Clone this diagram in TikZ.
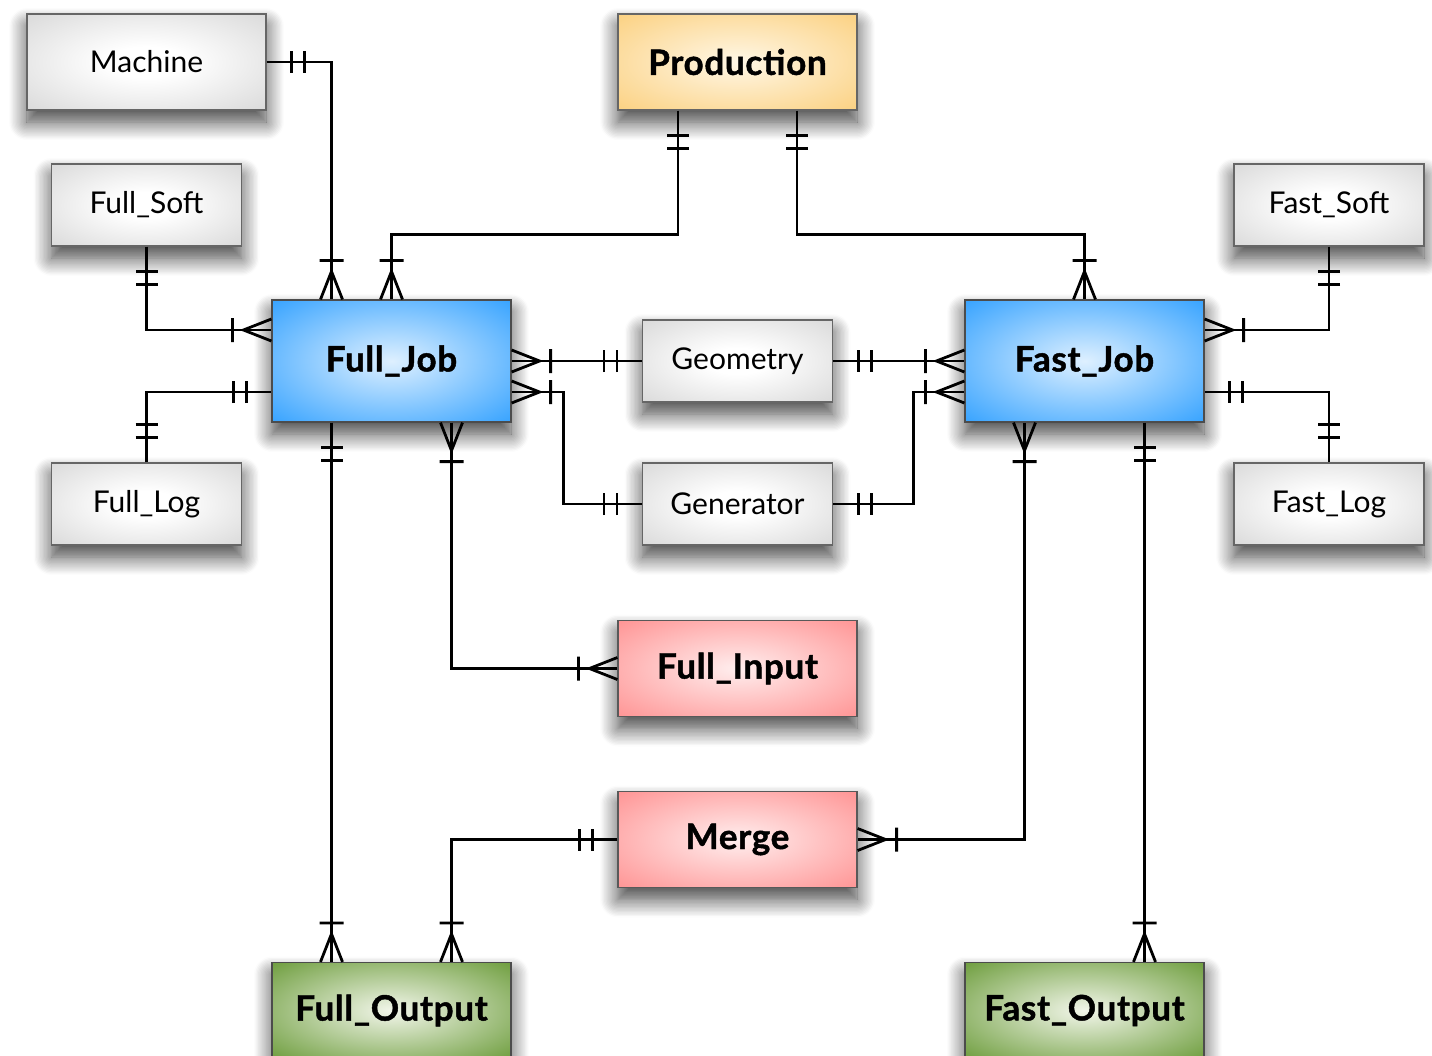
\documentclass[tikz,border=0pt]{standalone}
\usepackage{fontspec}
\setmainfont{Lato}
\newfontfamily\heavyfont{Lato}[BoldFeatures={FakeBold=1.3}, LetterSpace=2]
\usetikzlibrary{calc,shadows.blur}
\definecolor{gedge}{RGB}{204,204,204}
\definecolor{bedge}{RGB}{5,140,255}
\definecolor{bcent}{RGB}{222,240,255}
\definecolor{oedge}{RGB}{250,198,100}
\definecolor{ocent}{RGB}{255,247,230}
\definecolor{redge}{RGB}{255,122,122}
\definecolor{rcent}{RGB}{255,238,238}
\definecolor{gredge}{RGB}{72,132,12}
\definecolor{grcent}{RGB}{242,246,234}
\pgfdeclareradialshading{shgray}{\pgfpoint{0bp}{0bp}}{color(0bp)=(white); color(8bp)=(white); color(46bp)=(gedge); color(75bp)=(gedge)}
\pgfdeclareradialshading{shblue}{\pgfpoint{0bp}{0bp}}{color(0bp)=(bcent); color(46bp)=(bedge); color(75bp)=(bedge)}
\pgfdeclareradialshading{shorange}{\pgfpoint{0bp}{0bp}}{color(0bp)=(ocent); color(46bp)=(oedge); color(75bp)=(oedge)}
\pgfdeclareradialshading{shred}{\pgfpoint{0bp}{0bp}}{color(0bp)=(rcent); color(46bp)=(redge); color(75bp)=(redge)}
\pgfdeclareradialshading{shgreen}{\pgfpoint{0bp}{0bp}}{color(0bp)=(grcent); color(46bp)=(gredge); color(75bp)=(gredge)}
\tikzset{
  ent/.style={draw, inner sep=0pt, shade, line width=0.6pt,
    blur shadow={shadow xshift=0pt, shadow yshift=-6pt, shadow blur radius=9pt, shadow blur steps=14, shadow opacity=75},
    font=\fontsize{15}{18}\selectfont},
  smallbox/.style={ent, minimum width=95pt, minimum height=41pt},
  widebox/.style={ent, minimum width=119.5pt, minimum height=48pt},
  jobbox/.style={ent, minimum width=119.5pt, minimum height=61pt},
  strong/.style={font=\fontsize{17.5}{21}\heavyfont\bfseries},
  grayent/.style={shading=shgray, draw=black!60},
  blueent/.style={shading=shblue, draw=black!70, strong},
  orangeent/.style={shading=shorange, draw=black!60, strong},
  redent/.style={shading=shred, draw=black!65, strong},
  greenent/.style={shading=shgreen, draw=black!70, strong},
  conn/.style={line width=1.4pt},
  onemany/.pic={\draw[line width=1.4pt] (0,-11) -- (28,0) -- (0,11) (39,-12) -- (39,12);},
  oneone/.pic={\draw[line width=1.4pt] (25,-11) -- (25,11) (38,-11) -- (38,11);}
}
\begin{document}
\begin{tikzpicture}[x=0.5pt, y=-0.5pt]
\useasboundingbox (0,0) rectangle (1432,1056);
\node[widebox, grayent] (machine) at (146.5,62) {Machine};
\node[widebox, orangeent] (production) at (737.5,62) {Production};
\node[smallbox, grayent] (fullsoft) at (146.5,205) {Full\_Soft};
\node[smallbox, grayent] (fastsoft) at (1329,205) {Fast\_Soft};
\node[jobbox, blueent] (fulljob) at (391.5,361) {Full\_Job};
\node[jobbox, blueent] (fastjob) at (1084.5,361) {Fast\_Job};
\node[smallbox, grayent] (geometry) at (737.5,361) {Geometry};
\node[smallbox, grayent] (generator) at (737.5,504) {Generator};
\node[smallbox, grayent] (fulllog) at (146.5,504) {Full\_Log};
\node[smallbox, grayent] (fastlog) at (1329,504) {Fast\_Log};
\node[widebox, redent] (fullinput) at (737.5,668.5) {Full\_Input};
\node[widebox, redent] (merge) at (737.5,839.5) {Merge};
\node[widebox, greenent] (fulloutput) at (391.5,1010.5) {Full\_Output};
\node[widebox, greenent] (fastoutput) at (1084.5,1010.5) {Fast\_Output};

% 1 Machine - Full_Job
\draw[conn] (machine.east) -| ($(fulljob.north)+(-60,0)$);
\pic at (machine.east) {oneone};
\pic[rotate=90] at ($(fulljob.north)+(-60,0)$) {onemany};
% 2 Production - Full_Job
\draw[conn] ($(production.south)+(-59.5,0)$) -- ++(0,124) -| (fulljob.north);
\pic[rotate=-90] at ($(production.south)+(-59.5,0)$) {oneone};
\pic[rotate=90] at (fulljob.north) {onemany};
% 3 Production - Fast_Job
\draw[conn] ($(production.south)+(59.5,0)$) -- ++(0,124) -| (fastjob.north);
\pic[rotate=-90] at ($(production.south)+(59.5,0)$) {oneone};
\pic[rotate=90] at (fastjob.north) {onemany};
% 4 Full_Soft - Full_Job
\draw[conn] (fullsoft.south) |- ($(fulljob.west)+(0,-31)$);
\pic[rotate=-90] at (fullsoft.south) {oneone};
\pic[rotate=180] at ($(fulljob.west)+(0,-31)$) {onemany};
% 5 Full_Log - Full_Job
\draw[conn] (fulllog.north) |- ($(fulljob.west)+(0,31)$);
\pic[rotate=90] at (fulllog.north) {oneone};
\pic[rotate=180] at ($(fulljob.west)+(0,31)$) {oneone};
% 6 Full_Job - Geometry
\draw[conn] (fulljob.east) -- (geometry.west);
\pic at (fulljob.east) {onemany};
\pic[rotate=180] at (geometry.west) {oneone};
% 7 Full_Job - Generator
\draw[conn] ($(fulljob.east)+(0,31)$) -- ++(52,0) |- (generator.west);
\pic at ($(fulljob.east)+(0,31)$) {onemany};
\pic[rotate=180] at (generator.west) {oneone};
% 8 Geometry - Fast_Job
\draw[conn] (geometry.east) -- (fastjob.west);
\pic at (geometry.east) {oneone};
\pic[rotate=180] at (fastjob.west) {onemany};
% 9 Generator - Fast_Job
\draw[conn] (generator.east) -- ++(80,0) |- ($(fastjob.west)+(0,31)$);
\pic at (generator.east) {oneone};
\pic[rotate=180] at ($(fastjob.west)+(0,31)$) {onemany};
% 10 Fast_Soft - Fast_Job
\draw[conn] (fastsoft.south) |- ($(fastjob.east)+(0,-31)$);
\pic[rotate=-90] at (fastsoft.south) {oneone};
\pic at ($(fastjob.east)+(0,-31)$) {onemany};
% 11 Fast_Log - Fast_Job
\draw[conn] (fastlog.north) |- ($(fastjob.east)+(0,31)$);
\pic[rotate=90] at (fastlog.north) {oneone};
\pic at ($(fastjob.east)+(0,31)$) {oneone};
% 12 Full_Job - Full_Output
\draw[conn] ($(fulljob.south)+(-60,0)$) -- ($(fulloutput.north)+(-60,0)$);
\pic[rotate=-90] at ($(fulljob.south)+(-60,0)$) {oneone};
\pic[rotate=90] at ($(fulloutput.north)+(-60,0)$) {onemany};
% 13 Full_Job - Full_Input
\draw[conn] ($(fulljob.south)+(60,0)$) |- (fullinput.west);
\pic[rotate=-90] at ($(fulljob.south)+(60,0)$) {onemany};
\pic[rotate=180] at (fullinput.west) {onemany};
% 14 Merge - Full_Output
\draw[conn] (merge.west) -| ($(fulloutput.north)+(60,0)$);
\pic[rotate=180] at (merge.west) {oneone};
\pic[rotate=90] at ($(fulloutput.north)+(60,0)$) {onemany};
% 15 Merge - Fast_Job
\draw[conn] (merge.east) -| ($(fastjob.south)+(-60,0)$);
\pic at (merge.east) {onemany};
\pic[rotate=-90] at ($(fastjob.south)+(-60,0)$) {onemany};
% 16 Fast_Job - Fast_Output
\draw[conn] ($(fastjob.south)+(60,0)$) -- ($(fastoutput.north)+(60,0)$);
\pic[rotate=-90] at ($(fastjob.south)+(60,0)$) {oneone};
\pic[rotate=90] at ($(fastoutput.north)+(60,0)$) {onemany};
\end{tikzpicture}
\end{document}
